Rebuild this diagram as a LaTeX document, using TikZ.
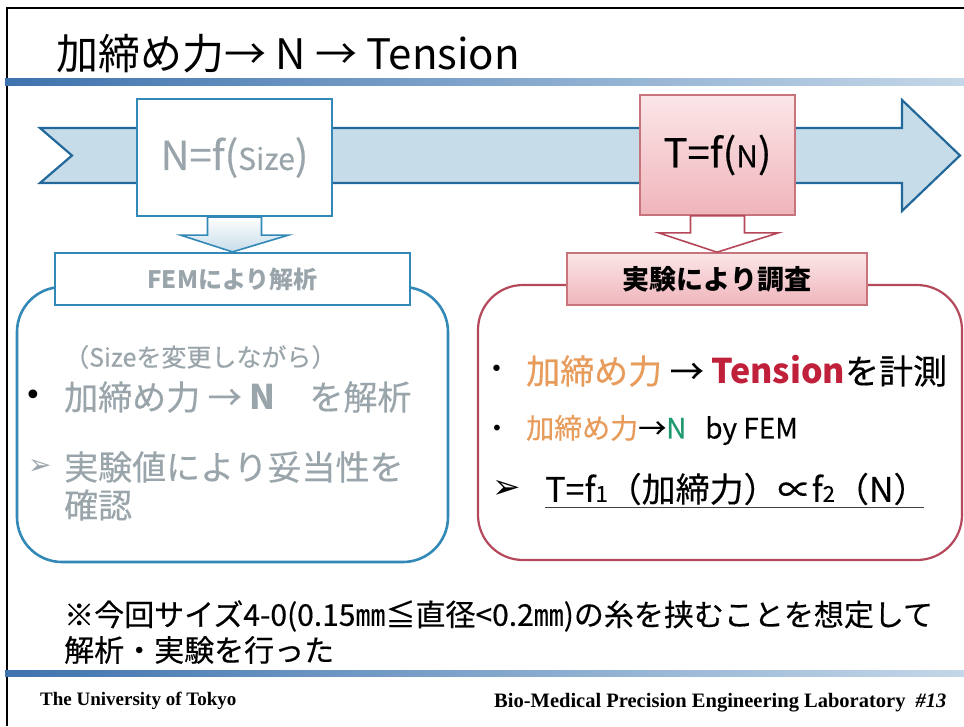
\documentclass[tikz,border=0pt]{standalone}
\usepackage{fontspec}
\setmainfont{Noto Sans CJK JP}[UprightFeatures={FakeBold=0.35}]
\newfontfamily\titlefont{Noto Sans CJK JP}
\newfontfamily\symfont{DejaVu Sans}
\newfontfamily\footfont{Liberation Serif}
\usetikzlibrary{calc}
\definecolor{arrowfill}{HTML}{C6DCE9}
\definecolor{arrowline}{HTML}{23689A}
\definecolor{boxblue}{HTML}{3288B6}
\definecolor{graytxt}{HTML}{9AA5AB}
\definecolor{pinktop}{HTML}{FBE6E8}
\definecolor{pinkbot}{HTML}{EFB5BB}
\definecolor{pinkline}{HTML}{C8747C}
\definecolor{redline}{HTML}{B5485A}
\definecolor{orangetxt}{HTML}{E89C5C}
\definecolor{crimson}{HTML}{C0203A}
\definecolor{greentxt}{HTML}{1F9A6E}
\definecolor{ruleA}{HTML}{3F73AE}
\definecolor{ruleB}{HTML}{C4D7E8}
\newcommand{\fs}[1]{\fontsize{#1}{#1}\selectfont}
\tikzset{
  bluebox/.style={draw=boxblue, line width=2.2pt, fill=white, inner sep=0pt},
  pinkbox/.style={draw=pinkline, line width=1.6pt, top color=pinktop, bottom color=pinkbot, inner sep=0pt},
  roundblue/.style={draw=boxblue, line width=2.6pt, rounded corners=45pt, fill=white},
  roundred/.style={draw=redline, line width=2.2pt, rounded corners=45pt, fill=white},
  txt/.style={anchor=west, inner sep=0pt},
  rulebar/.style={left color=ruleA, right color=ruleB},
}
\begin{document}
\begin{tikzpicture}[x=1pt,y=-1pt]
\useasboundingbox (0,0) rectangle (964,726);
\fill[white] (0,0) rectangle (964,726);
\draw[black, line width=1.6pt] (7,726) -- (7,8) -- (964,8);

% title
\node[anchor=base west, inner sep=0pt, font=\titlefont\fs{42}] (title) at (56,69) {加締め力→ N → Tension};
\shade[rulebar] (5,78) rectangle (964,85);

% big arrow
\draw[draw=arrowline, fill=arrowfill, line width=2.2pt, line join=miter]
  (40,128) -- (902,128) -- (902,100) -- (960,155.5) -- (902,211) -- (902,183) -- (40,183) -- (72,155.5) -- cycle;

% left column
\node[roundblue, minimum width=431pt, minimum height=275pt] (lbox) at (232.5,424.5) {};
\node[bluebox, minimum width=195pt, minimum height=117pt] (nbox) at (234.5,157.5)
  {\color{graytxt}\fs{40}N=f(\fs{30}Size\fs{40})};
\node[bluebox, minimum width=355pt, minimum height=52pt] (fem) at (232.5,279)
  {\color{graytxt}\bfseries\fs{24}FEMにより解析};
\draw[draw=boxblue, line width=1.6pt, top color=white, bottom color=arrowfill]
  ($(nbox.south)+(-27,0)$) -- ($(nbox.south)+(27,0)$) -- ($(nbox.south)+(27,18)$) -- ($(nbox.south)+(54,18)$)
  -- (fem.north) -- ($(nbox.south)+(-54,18)$) -- ($(nbox.south)+(-27,18)$) -- cycle;

\node[txt, font=\fs{25}, text=graytxt] (l0) at (64,357) {（Sizeを変更しながら）};
\node[txt, font=\symfont\fs{30}] (lb1) at (24,398) {•};
\node[txt, font=\fs{34}, text=graytxt] (l1) at (64,397) {加締め力 → \textbf{N}　を解析};
\node[txt, font=\symfont\fs{28}, text=graytxt] (lb2) at (28,467) {➢};
\node[txt, font=\fs{34}, text=graytxt] (l2) at (64,467) {実験値により妥当性を};
\node[txt, font=\fs{34}, text=graytxt] (l3) at (64,505) {確認};

% right column
\node[roundred, minimum width=484pt, minimum height=275pt] (rbox) at (720,422.5) {};
\node[pinkbox, minimum width=155pt, minimum height=120pt] (tbox) at (717.5,155)
  {\fs{40}T=f(\fs{30}N\fs{40})};
\node[pinkbox, minimum width=300pt, minimum height=52pt] (exp) at (717,279)
  {\bfseries\fs{27}実験により調査};
\draw[draw=redline, line width=1.6pt, fill=white]
  ($(tbox.south)+(-27,0)$) -- ($(tbox.south)+(27,0)$) -- ($(tbox.south)+(27,17)$) -- ($(tbox.south)+(61,17)$)
  -- (exp.north) -- ($(tbox.south)+(-59,17)$) -- ($(tbox.south)+(-27,17)$) -- cycle;

\node[txt, font=\symfont\fs{22}] (rb1) at (490,371) {•};
\node[txt, font=\fs{34}] (r1) at (526,371)
  {\textcolor{orangetxt}{加締め力} → \textcolor{crimson}{\bfseries Tension}を計測};
\node[txt, font=\symfont\fs{20}] (rb2) at (491,430) {•};
\node[txt, font=\fs{28}] (r2) at (526,430)
  {\textcolor{orangetxt}{加締め力}→\textcolor{greentxt}{N}\ \ \ by FEM};
\node[txt, font=\symfont\fs{34}] (rb3) at (492,489) {➢};
\node[txt, font=\fs{34}] (r3) at (545,489)
  {T=f{\fs{22}1}（加締力）∝f{\fs{22}2}（N）};
\draw[line width=1.2pt, draw=black!75] ($(r3.south west)+(0,2)$) -- ($(r3.south east)+(-4,2)$);

% note
\node[txt, font=\fs{30}] (n1) at (64,616) {※今回サイズ4-0(0.15㎜≦直径<0.2㎜)の糸を挟むことを想定して};
\node[txt, font=\fs{30}] (n2) at (64,650) {解析・実験を行った};

% footer
\shade[rulebar] (5,670) rectangle (964,676);
\node[txt, font=\footfont\bfseries\fs{19}] (f1) at (40,701) {The University of Tokyo};
\node[txt, font=\footfont\bfseries\fs{20.5}] (f2) at (494,703) {Bio-Medical Precision Engineering Laboratory\ \ \textit{\#13}};
\end{tikzpicture}
\end{document}
